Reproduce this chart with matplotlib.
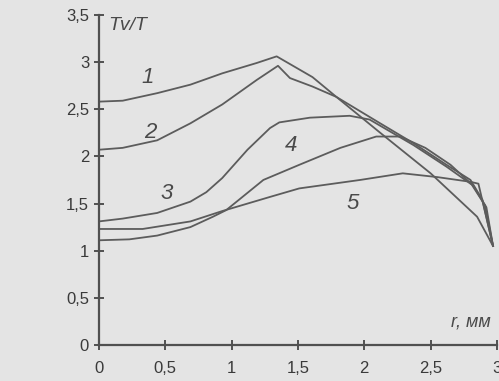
import matplotlib.pyplot as plt
from matplotlib.ticker import FuncFormatter

# curve values (r in mm, Tv/T)
r1 = [0.0, 0.18, 0.44, 0.69, 0.93, 1.19, 1.34, 1.61, 1.79, 2.12, 2.50, 2.85, 2.97]
t1 = [2.58, 2.59, 2.67, 2.76, 2.88, 2.99, 3.06, 2.84, 2.63, 2.25, 1.82, 1.36, 1.05]

r2 = [0.0, 0.18, 0.44, 0.69, 0.93, 1.19, 1.35, 1.44, 1.61, 1.79, 2.12, 2.37, 2.62, 2.80, 2.89, 2.97]
t2 = [2.07, 2.09, 2.17, 2.35, 2.55, 2.81, 2.96, 2.83, 2.74, 2.63, 2.35, 2.14, 1.91, 1.75, 1.54, 1.05]

r3 = [0.0, 0.18, 0.44, 0.69, 0.81, 0.93, 1.12, 1.29, 1.36, 1.59, 1.89, 2.04, 2.37, 2.62, 2.81, 2.91, 2.97]
t3 = [1.31, 1.34, 1.40, 1.52, 1.62, 1.77, 2.07, 2.30, 2.36, 2.41, 2.43, 2.39, 2.12, 1.89, 1.70, 1.48, 1.05]

r4 = [0.0, 0.23, 0.44, 0.69, 0.86, 0.96, 1.24, 1.51, 1.82, 2.09, 2.27, 2.46, 2.65, 2.82, 2.92, 2.97]
t4 = [1.11, 1.12, 1.16, 1.25, 1.36, 1.43, 1.75, 1.91, 2.09, 2.21, 2.21, 2.09, 1.91, 1.69, 1.46, 1.05]

r5 = [0.0, 0.33, 0.69, 0.93, 1.29, 1.51, 1.97, 2.29, 2.55, 2.80, 2.86, 2.97]
t5 = [1.23, 1.23, 1.31, 1.42, 1.57, 1.66, 1.75, 1.82, 1.78, 1.73, 1.71, 1.05]

curves = [(r1, t1), (r2, t2), (r3, t3), (r4, t4), (r5, t5)]
labels = ['1', '2', '3', '4', '5']
label_pos = [(0.37, 2.84), (0.39, 2.25), (0.51, 1.61), (1.45, 2.12), (1.91, 1.50)]

xticks = [0, 0.5, 1, 1.5, 2, 2.5, 3]
yticks = [0, 0.5, 1, 1.5, 2, 2.5, 3, 3.5]

ink = '#4a4a4a'
plt.rcParams['font.family'] = ['Liberation Sans', 'DejaVu Sans']

fig = plt.figure(figsize=(4.99, 3.81), dpi=100, facecolor='#e4e4e4')
ax = fig.add_axes([0.198, 0.0945, 0.798, 0.8665])
ax.set_facecolor('#e4e4e4')

for r, t in curves:
    ax.plot(r, t, color='#5c5c5c', lw=1.3)

for lab, (x, y) in zip(labels, label_pos):
    ax.text(x, y, lab, fontsize=16, style='italic', color=ink, ha='center', va='center')

ax.text(0.22, 3.39, 'Tv/T', fontsize=14, style='italic', color=ink, ha='center', va='center')
ax.text(2.80, 0.24, 'r, мм', fontsize=13, style='italic', color=ink, ha='center', va='center')

ax.set_xlim(0, 3)
ax.set_ylim(0, 3.5)
ax.set_xticks(xticks)
ax.set_yticks(yticks)
comma = FuncFormatter(lambda v, p: ('%g' % v).replace('.', ','))
ax.xaxis.set_major_formatter(comma)
ax.yaxis.set_major_formatter(comma)

for s in ['top', 'right']:
    ax.spines[s].set_visible(False)
for s in ['left', 'bottom']:
    ax.spines[s].set_color('#505050')
    ax.spines[s].set_linewidth(1.6)
ax.tick_params(direction='inout', length=7, width=1.4, color='#505050',
               labelsize=12, labelcolor='#3a3a3a')
ax.tick_params(axis='x', pad=8)

fig.savefig('out.png', dpi=100, facecolor=fig.get_facecolor())
